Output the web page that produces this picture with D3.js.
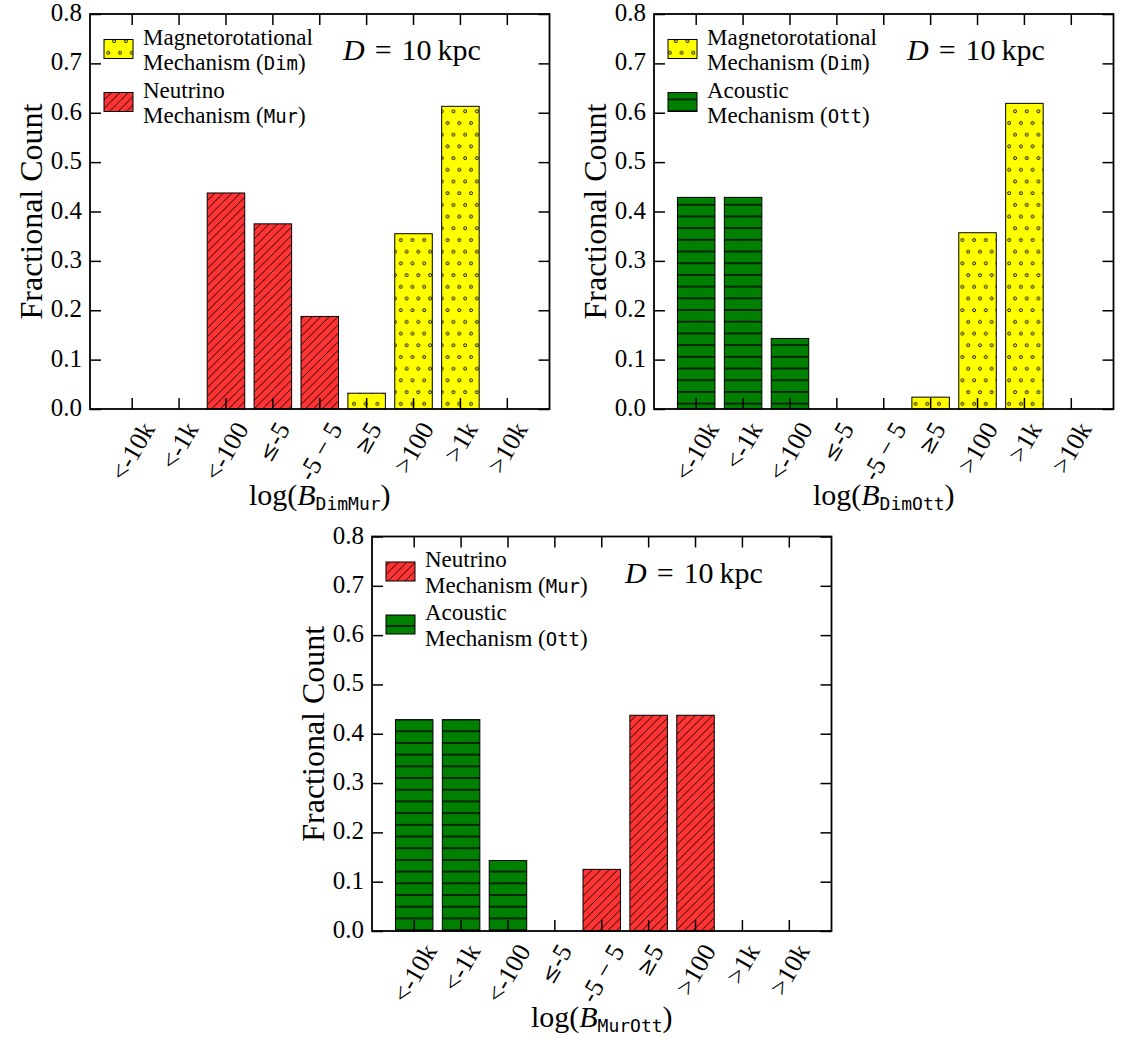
<!DOCTYPE html>
<html><head><meta charset="utf-8">
<script src="https://cdn.jsdelivr.net/npm/d3@7"></script>
<style>body{margin:0;background:#fff} svg{display:block}</style>
</head><body><svg id="c" width="1128" height="1043"></svg>
<script>
// ---------- data ----------
const categories = ["<-10k", "<-1k", "<-100", "\u2264-5", "-5 \u2212 5", "\u22655", ">100", ">1k", ">10k"];
const yTicks = [0, 0.1, 0.2, 0.3, 0.4, 0.5, 0.6, 0.7, 0.8];

const dimMur_Dim = [0, 0, 0, 0, 0, 0.032, 0.355, 0.613, 0];
const dimMur_Mur = [0, 0, 0.4375, 0.375, 0.1875, 0, 0, 0, 0];
const dimOtt_Dim = [0, 0, 0, 0, 0, 0.024, 0.357, 0.619, 0];
const dimOtt_Ott = [0.4286, 0.4286, 0.1429, 0, 0, 0, 0, 0, 0];
const murOtt_Mur = [0, 0, 0, 0, 0.125, 0.4375, 0.4375, 0, 0];
const murOtt_Ott = [0.4286, 0.4286, 0.1429, 0, 0, 0, 0, 0, 0];

const legendDim = ["Magnetorotational", "Mechanism", "Dim"];
const legendMur = ["Neutrino", "Mechanism", "Mur"];
const legendOtt = ["Acoustic", "Mechanism", "Ott"];
const xSubs = ["DimMur", "DimOtt", "MurOtt"];
const yTitle = "Fractional Count";
const distanceLabel = ["D", "\u2004=\u200410\u2009kpc"];

// ---------- drawing ----------
const SERIF = "'Liberation Serif','Times New Roman',serif";
const MONO = "'DejaVu Sans Mono','Liberation Mono',monospace";
const svg = d3.select("#c").attr("font-family", SERIF);
const defs = svg.append("defs");

function pat(id, w, h, bg, draw) {
  const p = defs.append("pattern").attr("id", id).attr("patternUnits", "userSpaceOnUse")
    .attr("width", w).attr("height", h);
  p.append("rect").attr("width", w).attr("height", h).attr("fill", bg);
  draw(p);
}
pat("pDots", 11.7, 23.4, "#ffff00", p => {
  [[3, 6], [8.85, 17.7]].forEach(([cx, cy]) =>
    p.append("circle").attr("cx", cx).attr("cy", cy).attr("r", 1.5)
      .attr("fill", "none").attr("stroke", "#000").attr("stroke-width", 0.9));
});
pat("pHatch", 8.5, 8.5, "#ff3333", p =>
  p.append("path").attr("d", "M0,8.5L8.5,0M-2,2L2,-2M6.5,10.5L10.5,6.5")
    .attr("stroke", "#000").attr("stroke-width", 0.9).attr("fill", "none"));
pat("pLines", 10, 11.7, "#008000", p =>
  p.append("line").attr("x1", 0).attr("x2", 10).attr("y1", 5.8).attr("y2", 5.8)
    .attr("stroke", "#000").attr("stroke-width", 1.4));

const FILL = { Dim: "url(#pDots)", Mur: "url(#pHatch)", Ott: "url(#pLines)" };

const panels = [
  { box: { l: 90, r: 549.5, t: 14, b: 409 }, sub: xSubs[0],
    series: [{ vals: dimMur_Dim, key: "Dim", leg: legendDim }, { vals: dimMur_Mur, key: "Mur", leg: legendMur }] },
  { box: { l: 654, r: 1113.5, t: 14, b: 409 }, sub: xSubs[1],
    series: [{ vals: dimOtt_Dim, key: "Dim", leg: legendDim }, { vals: dimOtt_Ott, key: "Ott", leg: legendOtt }] },
  { box: { l: 372, r: 831.5, t: 536.5, b: 931 }, sub: xSubs[2],
    series: [{ vals: murOtt_Mur, key: "Mur", leg: legendMur }, { vals: murOtt_Ott, key: "Ott", leg: legendOtt }] }
];

const TL = 11;
function styleAxis(g) {
  g.select(".domain").remove();
  g.selectAll(".tick line").attr("stroke", "#000").attr("stroke-width", 1.5);
}

panels.forEach(P => {
  const { l, r, t, b } = P.box;
  const x = d3.scaleBand().domain(categories).range([l, r]).paddingInner(0.2).paddingOuter(0.5);
  const y = d3.scaleLinear().domain([0, 0.8]).range([b, t]);

  // bars
  P.series.forEach(s => {
    svg.append("g").selectAll("rect")
      .data(categories.map((c, i) => ({ c, v: s.vals[i] })).filter(d => d.v > 0))
      .join("rect")
      .attr("x", d => x(d.c)).attr("width", x.bandwidth())
      .attr("y", d => y(d.v)).attr("height", d => y(0) - y(d.v))
      .attr("fill", FILL[s.key]).attr("stroke", "#000").attr("stroke-width", 1);
  });

  // axes
  svg.append("g").attr("transform", `translate(${l},0)`)
    .call(d3.axisLeft(y).tickValues(yTicks).tickSize(-TL).tickPadding(8).tickFormat(d3.format(".1f")))
    .call(styleAxis)
    .call(g => g.selectAll("text").attr("font-family", SERIF).attr("font-size", 25).attr("fill", "#000").attr("dy", "0.26em"));
  svg.append("g").attr("transform", `translate(${r},0)`)
    .call(d3.axisRight(y).tickValues(yTicks).tickSize(-TL).tickFormat(""))
    .call(styleAxis);
  svg.append("g").attr("transform", `translate(0,${t})`)
    .call(d3.axisTop(x).tickSize(-TL).tickFormat(""))
    .call(styleAxis);
  svg.append("g").attr("transform", `translate(0,${b})`)
    .call(d3.axisBottom(x).tickSize(-TL).tickFormat(""))
    .call(styleAxis);

  // frame
  svg.append("rect").attr("x", l).attr("y", t).attr("width", r - l).attr("height", b - t)
    .attr("fill", "none").attr("stroke", "#000").attr("stroke-width", 1.8);

  // rotated x labels
  const a = 60 * Math.PI / 180;
  categories.forEach(c => {
    const cx = x(c) + x.bandwidth() / 2;
    const tx = svg.append("text").attr("font-size", 26).attr("text-anchor", "middle")
      .attr("dy", "0.35em");
    if (c[0] === "\u2264" || c[0] === "\u2265") {
      tx.append("tspan").attr("font-family", "'DejaVu Serif',serif").attr("font-size", 22).text(c[0]);
      tx.append("tspan").text(c.slice(1));
    } else {
      tx.text(c);
    }
    const L = tx.node().getComputedTextLength();
    const H = L * Math.sin(a) + 17 * Math.cos(a);
    tx.attr("transform", `translate(${cx},${b + 11 + H / 2}) rotate(-60)`);
  });

  // x title
  const tt = svg.append("text").attr("x", (l + r) / 2).attr("y", b + 96)
    .attr("text-anchor", "middle").attr("font-size", 30);
  tt.append("tspan").text("log(");
  tt.append("tspan").attr("font-style", "italic").text("B");
  tt.append("tspan").attr("font-family", MONO).attr("font-size", 18).attr("dy", 5).text(P.sub);
  tt.append("tspan").attr("dy", -5).text(")");

  // y title
  svg.append("text").attr("transform", `translate(${l - 48},${(t + b) / 2}) rotate(-90)`)
    .attr("text-anchor", "middle").attr("font-size", 32).text(yTitle);

  // distance label
  const dt = svg.append("text").attr("x", l + 253).attr("y", t + 46).attr("font-size", 30);
  dt.append("tspan").attr("font-style", "italic").text(distanceLabel[0]);
  dt.append("tspan").text(distanceLabel[1]);

  // legend
  P.series.forEach((s, k) => {
    const y0 = t + k * 53;
    svg.append("rect").attr("x", l + 14).attr("y", y0 + 25.5).attr("width", 29).attr("height", 19)
      .attr("fill", FILL[s.key]).attr("stroke", "#000").attr("stroke-width", 1);
    svg.append("text").attr("x", l + 53).attr("y", y0 + 30.5).attr("font-size", 23).text(s.leg[0]);
    const t2 = svg.append("text").attr("x", l + 53).attr("y", y0 + 56).attr("font-size", 23);
    t2.append("tspan").text(s.leg[1] + " (");
    t2.append("tspan").attr("font-family", MONO).attr("font-size", 19).text(s.leg[2]);
    t2.append("tspan").text(")");
  });
});
</script>
</body></html>
